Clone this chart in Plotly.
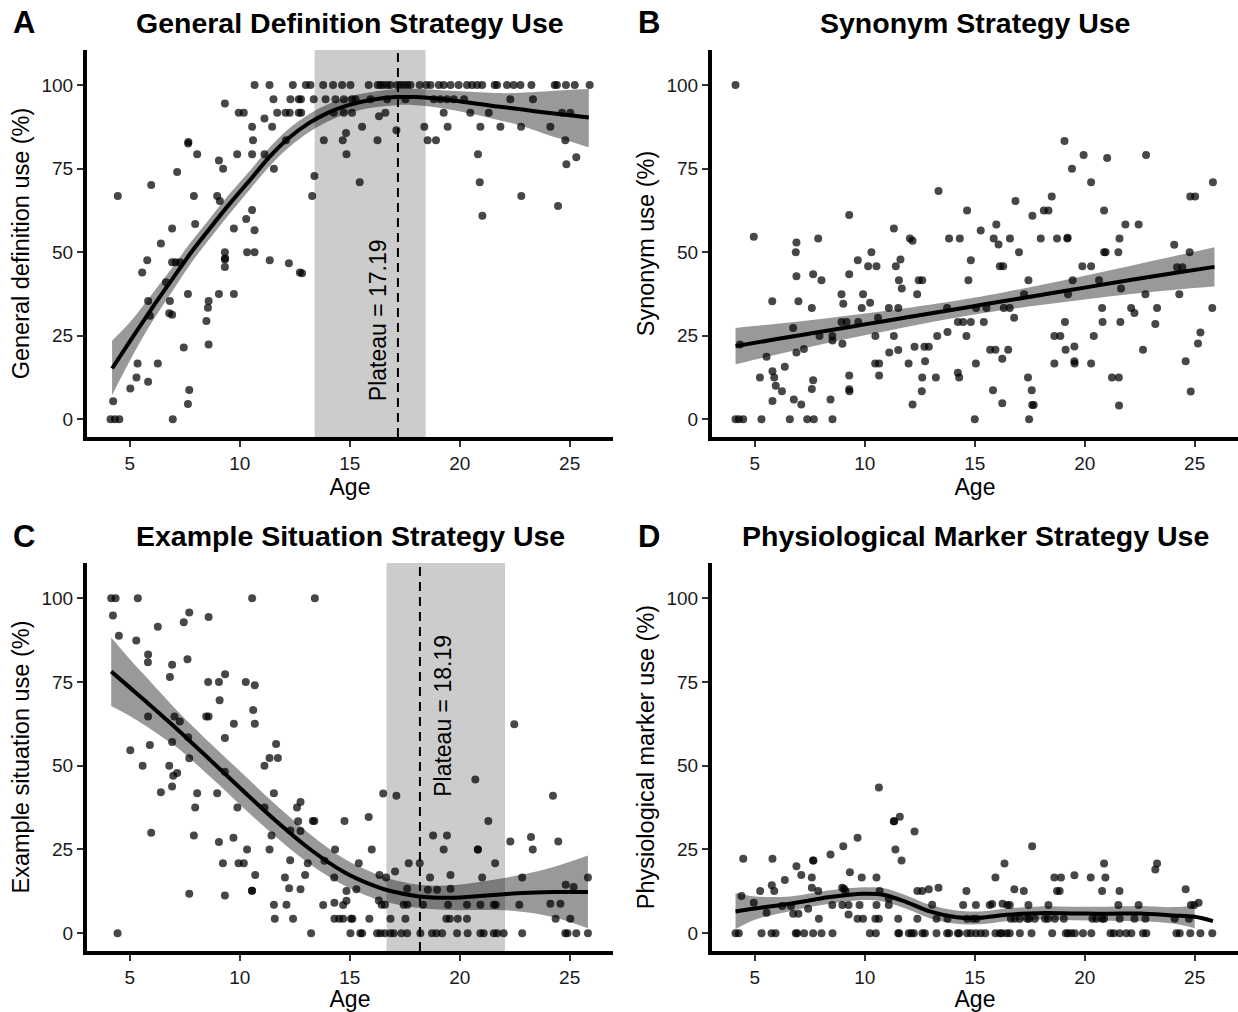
import plotly.graph_objects as go

# ---------------- Panel A : General definition ----------------
age_a = [10.67, 11.35, 12.41, 13.0, 13.21, 13.79, 14.24, 14.65, 15.03, 15.86, 16.27, 16.39, 16.52, 16.70,
         16.85, 17.15, 17.30, 17.45, 17.61, 17.76, 18.18, 18.48, 18.67, 19.05, 19.27, 19.58, 19.95, 20.33,
         20.56, 20.79, 21.02, 21.59, 21.70, 22.15, 22.45, 22.76, 23.26, 24.32, 24.42, 24.83, 25.23, 25.91,
         11.53, 12.3, 12.68, 12.78, 13.36, 13.9, 14.35, 14.73, 15.1, 15.26, 15.94, 16.7, 17.53, 18.82,
         19.12, 19.42, 19.73, 20.2, 22.3, 23.33,
         9.95, 10.18, 11.7, 12.08, 12.27, 12.68, 12.79, 14.27, 14.73, 15.1, 16.62, 19.27, 20.48, 21.32,
         24.65, 25.03, 16.33,
         9.32, 11.12, 10.56, 11.47, 10.6, 12.1, 7.65, 7.66, 8.06, 9.88, 10.56, 11.12, 9.05, 9.24, 11.55,
         7.15, 5.97, 4.45, 7.91, 8.97, 9.09, 10.56, 10.29, 7.97, 6.92, 9.73, 10.67, 6.41, 9.32, 10.33,
         10.67, 9.32, 9.33, 5.79, 11.36, 6.92, 7.08, 7.27, 12.23, 9.32, 5.56, 12.73, 6.64, 7.64, 9.05,
         9.73, 5.83, 8.58, 6.82, 8.55, 6.79, 6.92, 5.91, 8.48, 8.58, 7.45, 5.35, 6.27, 5.3, 5.83, 5.02,
         7.7, 4.24, 7.64, 4.12, 4.32, 4.52, 6.95,
         13.39, 13.29, 12.83, 13.82, 14.68, 16.26, 18.54, 18.92, 24.8, 14.85, 20.83, 14.83, 17.12,
         15.56, 18.39, 19.45, 20.94, 21.85, 22.79, 24.12, 25.3, 24.85, 15.45, 20.91, 22.8, 24.47, 21.03]
def_use = [100, 100, 100, 100, 100, 100, 100, 100, 100, 100, 100, 100, 100, 100,
           100, 100, 100, 100, 100, 100, 100, 100, 100, 100, 100, 100, 100, 100,
           100, 100, 100, 100, 100, 100, 100, 100, 100, 100, 100, 100, 100, 100,
           95.8, 95.8, 95.8, 95.8, 95.8, 95.8, 95.8, 95.8, 95.8, 95.8, 95.8, 95.8, 95.8, 95.8,
           95.8, 95.8, 95.8, 95.8, 95.8, 95.8,
           91.7, 91.7, 91.7, 91.7, 91.7, 91.7, 91.7, 91.7, 91.7, 91.7, 91.7, 91.7, 91.7, 91.7,
           91.7, 91.7, 90.7,
           94.5, 90, 87.5, 87.5, 83.5, 83.5, 82.5, 83, 79.3, 79.3, 79.3, 79.3, 77.4, 75, 75,
           74, 70.1, 66.8, 66.8, 66.8, 65.3, 62.6, 59.9, 58.4, 57.1, 57.1, 56.6, 52.6, 50, 50,
           50, 47.8, 48.2, 47.6, 47.6, 47, 47, 47, 46.7, 45.6, 43.9, 43.9, 41, 37.5, 37.5,
           37.5, 35.4, 35.4, 35.4, 33.4, 31.7, 31.3, 31, 29.4, 22.4, 21.5, 16.7, 16.7, 12.5, 11.2, 9.2,
           8.8, 5.4, 4.6, 0, 0, 0, 0,
           72.8, 66.8, 43.7, 83.5, 83.5, 83.5, 83.5, 83.5, 83.5, 79.3, 79.3, 85.7, 86.5,
           87.5, 87.5, 87.5, 87.5, 87.5, 87.5, 87.5, 78.4, 76.3, 70.9, 70.9, 66.8, 63.8, 60.9]
fit_age_a = [4.19, 5.0, 5.95, 7.0, 7.75, 8.6, 9.55, 10.5, 11.35, 12.2, 13.14, 14.0, 14.94, 16.0, 17.1,
             18.0, 18.9, 19.8, 20.69, 21.6, 22.49, 23.4, 24.29, 25.1, 25.87]
fit_a = [15.2, 23.3, 32.7, 42.6, 49.6, 56.8, 64.6, 71.9, 78.5, 84.0, 88.6, 91.7, 94.0, 95.6, 96.4,
         96.4, 96.0, 95.3, 94.5, 93.7, 93.0, 92.2, 91.5, 90.9, 90.3]
fit_a_hi = [23.5, 29.0, 37.0, 46.0, 52.8, 59.8, 67.6, 74.7, 81.3, 86.8, 91.3, 94.3, 96.5, 97.9, 98.8,
            98.8, 98.6, 98.2, 97.9, 97.6, 97.6, 97.9, 98.3, 98.6, 98.8]
fit_a_lo = [7.2, 17.5, 28.5, 39.0, 46.4, 53.8, 61.6, 69.1, 75.7, 81.2, 85.9, 89.1, 91.6, 93.2, 94.0,
            94.0, 93.4, 92.4, 91.2, 89.8, 88.4, 86.5, 84.5, 83.0, 81.4]
plateau_a = 17.19
plateau_a_ci = [13.4, 18.45]

# ---------------- Panel B : Synonym ----------------
age_b = [4.12, 4.95, 6.89, 6.86, 9.29, 11.32, 12.05, 12.17, 13.35, 13.83, 14.32, 14.65, 15.27, 7.88,
         10.3, 9.68, 10.15, 10.53, 11.41, 11.62, 14.82, 7.65, 6.89, 8.03, 9.29, 11.55, 12.45, 12.61,
         14.71, 11.68, 8.94, 12.38, 9.92, 5.79, 6.98, 9.02, 10.24, 7.59, 9.86, 11.09, 11.52, 13.74,
         8.94, 9.17, 9.7, 10.6, 14.23, 14.47, 14.82, 15.41, 6.74, 7.94, 8.52, 8.53, 8.98, 10.48, 11.32,
         13.29, 14.62, 4.32, 7.23, 6.89, 5.53, 11.11, 11.52, 12.26, 12.71, 12.91, 12.74, 11.99, 10.47,
         10.65, 13.76, 14.23, 14.29, 15.05, 5.8, 6.36, 5.88, 5.23, 5.95, 10.65, 9.29, 6.23, 5.8, 6.77,
         7.11, 7.59, 7.65, 8.44, 9.29, 9.30, 12.17, 12.59, 12.61, 13.23, 4.12, 4.27, 4.47, 5.3, 6.59,
         7.38, 7.68, 8.53, 15.0,
         19.08, 19.95, 21.02, 22.79, 19.42, 20.29, 25.83, 24.8, 25.02, 18.5, 16.85, 18.14, 18.35, 20.88,
         17.62, 15.98, 21.85, 22.45, 16.08, 15.86, 16.6, 18.0, 18.74, 19.21, 19.22, 21.58, 17.01, 20.88,
         20.95, 21.53, 24.77, 24.07, 16.14, 16.29, 19.89, 20.29, 24.2, 24.44, 17.44, 19.45, 20.65, 17.24,
         19.24, 21.65, 22.76, 24.3, 16.32, 16.59, 15.53, 15.06, 20.79, 22.11, 22.26, 23.29, 25.8, 16.79,
         19.1, 20.81, 21.62, 23.21, 18.62, 18.89, 20.41, 25.26, 25.15, 15.7, 15.94, 16.52, 19.13, 19.53,
         22.65, 16.25, 19.53, 19.54, 18.62, 20.29, 24.59, 17.42, 21.24, 21.55, 15.83, 17.59, 24.82, 16.25,
         17.61, 17.68, 21.56, 17.47]
syn_use = [100, 54.6, 52.9, 50, 61.1, 57.1, 54.1, 53.4, 68.3, 54.1, 54.1, 62.5, 56.5, 54.1,
           50, 47.6, 45.8, 45.8, 45.8, 47.8, 47.6, 43.4, 42.8, 41.6, 43.4, 41.6, 41.6, 41.6,
           41.6, 39.1, 37.4, 37.4, 37.4, 35.3, 35.3, 34.6, 34.9, 33.3, 33.3, 33.3, 33.3, 33.3,
           29.1, 29.1, 29.1, 30.4, 29.1, 29.1, 29.1, 29.1, 27.3, 24.9, 24.9, 23.6, 22.6, 24.9, 24.9,
           24.9, 24.9, 22.4, 21, 20, 18.7, 20, 20.7, 21.7, 21.7, 21.7, 17.4, 16.7, 16.7,
           16.7, 26.1, 13.9, 12.5, 16.7, 14.4, 15.7, 12.5, 12.5, 10, 13.1, 13.1, 8.4, 5.5, 5.9,
           4.4, 9.1, 11.7, 5.9, 9.0, 8.4, 4.4, 8.4, 12.5, 12.5, 0, 0, 0, 0, 0,
           0, 0, 0, 0,
           83.3, 79.1, 78.2, 79.1, 75, 70.9, 70.9, 66.7, 66.7, 66.7, 65.3, 62.5, 62.5, 62.5,
           60.9, 58.3, 58.3, 58.3, 52.3, 54.1, 54.1, 54.1, 54.1, 54.1, 54.3, 54.1, 50, 50,
           50, 50, 50, 52.2, 45.8, 45.8, 45.8, 45.8, 45.5, 45.5, 41.6, 41.6, 41.6, 37.4,
           37.4, 39.1, 37.4, 37.4, 33.3, 33.3, 33.3, 33.3, 33.3, 33.3, 31.8, 33.3, 33.3, 30.4,
           29.1, 29.1, 29.1, 28.5, 24.9, 24.9, 24.9, 26, 22.7, 20.8, 20.8, 20.8, 20.8, 21.8,
           20.8, 18.1, 17.4, 16.7, 16.7, 16.7, 17.4, 12.5, 12.5, 12.5, 8.7, 8.7, 8.3, 4.8,
           4.3, 4.3, 4.1, 0]
fit_age_b = [4.12, 6.0, 8.0, 10.0, 12.0, 14.0, 15.0, 16.0, 18.0, 20.0, 22.0, 24.0, 25.9]
fit_b = [21.9, 24.0, 26.2, 28.4, 30.6, 32.8, 33.9, 35.0, 37.2, 39.4, 41.6, 43.7, 45.6]
fit_b_hi = [27.35, 28.6, 30.0, 31.67, 33.4, 35.33, 36.42, 37.6, 40.2, 42.98, 45.8, 48.7, 51.5]
fit_b_lo = [16.45, 19.4, 22.4, 25.13, 27.8, 30.27, 31.38, 32.4, 34.2, 35.82, 37.4, 38.7, 39.7]

# ---------------- Panel C : Example situation ----------------
age_c = [4.15, 4.35, 5.36, 10.56, 13.41, 4.23, 4.5, 5.29, 6.27, 7.45, 7.7, 8.58, 5.83, 5.82, 7.62,
         6.92, 6.82, 8.56, 9.05, 9.33, 10.27, 10.68, 9.08, 10.61, 5.83, 7.03, 7.27, 8.47, 8.58, 9.73,
         10.68, 9.32, 6.92, 7.65, 5.91, 11.65, 11.35, 11.73, 7.7, 5.02, 5.58, 6.79, 11.12, 6.97, 7.15,
         9.32, 6.92, 6.41, 8.06, 8.97, 11.55, 7.97, 9.89, 11.12, 12.6, 12.76, 13.32, 13.39, 14.76,
         5.97, 7.91, 9.05, 9.71, 11.44, 12.3, 12.65, 12.76, 10.33, 11.35, 14.33, 9.23, 9.94, 10.18,
         12.29, 13.09, 13.85, 15.41, 10.7, 12.05, 12.97, 14.29, 7.7, 9.32, 10.55, 10.56, 12.24, 12.76,
         14.85, 15.3, 11.55, 12.12, 13.79, 14.3, 14.7, 14.85, 11.59, 12.42, 14.3, 14.52, 14.7, 15.06,
         15.12, 4.44, 13.24, 15.03, 15.48,
         22.48, 20.71, 16.52, 17.12, 24.24, 15.86, 21.3, 18.79, 19.42, 24.48, 23.24, 22.3, 16.0, 19.27,
         20.82, 20.83, 23.32, 17.68, 18.18, 21.61, 16.35, 16.65, 17.06, 18.65, 19.58, 21.02, 22.84,
         25.83, 24.82, 25.18, 17.61, 18.55, 18.97, 19.58, 16.32, 16.45, 16.6, 17.45, 17.62, 18.33,
         19.47, 20.33, 20.94, 21.55, 21.64, 22.71, 24.12, 24.58, 15.89, 16.85, 17.53, 19.39, 19.55,
         19.91, 20.33, 24.36, 25.03,
         15.56, 16.24, 16.39, 16.59, 16.85, 17.0, 17.35, 17.61, 18.21, 18.74, 18.94, 19.2, 19.88,
         20.36, 20.94, 21.09, 21.55, 21.7, 22.0, 22.84, 24.8, 24.9, 25.3, 25.83]
ex_use = [100, 100, 100, 100, 100, 94.8, 88.8, 87.4, 91.5, 92.8, 95.7, 94.4, 83.2, 80.9, 81.8,
          80.1, 76.5, 75, 75, 77.3, 75, 74, 69.5, 66.6, 64.7, 64.7, 63.2, 64.7, 64.7, 62.5,
          62.5, 58.3, 57.1, 58.5, 56.2, 56.5, 52.3, 52.3, 52.2, 54.6, 50, 50, 50, 47, 47.8,
          48.2, 43.8, 42.1, 41.8, 41.8, 41.8, 37.5, 37.5, 37.5, 37.5, 39.2, 33.5, 33.5, 33.5,
          30, 29.2, 27.2, 28.5, 29.2, 30.7, 33.4, 30.5, 25, 25, 25, 20.9, 20.9, 20.9,
          21.8, 20.9, 21.6, 20.9, 17.4, 16.6, 17.4, 16.6, 11.8, 11.3, 12.7, 12.7, 13.4, 13.1,
          12.6, 13.1, 8.5, 8.5, 8.4, 9.1, 8.4, 9.7, 4.3, 4.3, 4.3, 4.3, 4.3, 4.3,
          4.3, 0, 0, 0, 0,
          62.4, 45.9, 41.7, 41, 41, 34.7, 33.5, 29.2, 29.2, 27.4, 28.7, 27.4, 25, 25,
          25, 25, 25, 20.9, 20.9, 20.9, 17.4, 16.6, 18.4, 16.6, 17.4, 16.6, 16.6,
          16.6, 14.5, 13.8, 13.3, 13, 13, 13.3, 9.8, 8.5, 8.5, 8.5, 8.5, 8.5,
          8.5, 8.5, 8.5, 8.5, 8.5, 8.5, 8.8, 8.8, 4.3, 4.3, 4.3, 4.3, 4.3,
          4.3, 4.3, 4.3, 4.3,
          0, 0, 0, 0, 0, 0, 0, 0, 0, 0, 0, 0, 0,
          0, 0, 0, 0, 0, 0, 0, 0, 0, 0, 0]
fit_age_c = [4.15, 5.0, 5.64, 6.5, 7.15, 8.67, 10.18, 11.7, 13.21, 14.73, 16.09, 16.85, 18.15, 19.58,
             21.09, 22.6, 24.27, 25.83]
fit_c = [78.1, 73.3, 69.7, 64.7, 60.9, 51.6, 42.3, 33.2, 25.0, 18.3, 14.2, 12.6, 11.0, 10.6, 11.2,
         11.9, 12.3, 12.3]
fit_c_hi = [88.3, 81.8, 77.2, 71.0, 66.4, 56.6, 47.3, 38.0, 29.5, 22.3, 18.0, 16.2, 14.5, 14.3, 15.5,
            17.2, 19.8, 23.2]
fit_c_lo = [67.8, 64.8, 62.2, 58.4, 55.4, 46.6, 37.3, 28.4, 20.5, 14.3, 10.4, 9.0, 7.5, 6.9, 6.9,
            6.6, 4.8, 1.5]
plateau_c = 18.19
plateau_c_ci = [16.67, 22.06]

# ---------------- Panel D : Physiological marker ----------------
age_d = [10.64, 11.32, 11.33, 11.59, 12.26, 9.67, 9.02, 11.39, 8.44, 4.47, 5.8, 7.65, 7.66, 11.67, 6.89,
         9.32, 7.11, 7.59, 9.86, 10.53, 6.36, 5.77, 5.88, 7.59, 8.97, 9.05, 9.12, 5.24, 10.67, 12.61,
         12.91, 13.35, 14.62, 4.39, 7.88, 4.95, 11.09, 12.39, 13.06, 6.24, 6.64, 8.52, 8.98, 9.26, 9.76,
         10.53, 11.09, 14.47, 15.05, 5.53, 6.74, 6.98, 7.42, 9.26, 9.67, 9.92, 10.48, 10.64, 11.52,
         12.39, 13.26, 13.76, 14.65, 14.92, 15.08, 7.91,
         4.12, 4.27, 5.3, 5.76, 5.94, 6.86, 6.92, 7.24, 7.65, 8.03, 8.53, 10.23, 10.5, 11.52, 11.56,
         12.0, 12.12, 12.23, 12.62, 12.73, 13.26, 13.74, 13.83, 14.23, 14.29, 14.65, 14.82, 15.05,
         15.27, 15.48,
         17.61, 16.35, 20.88, 23.21, 23.29, 15.94, 18.62, 18.92, 19.53, 20.27, 20.94, 16.8, 17.23,
         18.74, 18.86, 20.79, 21.58, 24.59, 15.68, 15.79, 16.26, 16.48, 16.59, 17.44, 18.35, 21.53,
         22.45, 24.83, 24.98, 25.18,
         16.64, 16.82, 17.05, 17.38, 17.47, 17.73, 18.2, 18.33, 18.64, 19.05, 20.35, 20.53, 20.79,
         20.88, 21.59, 22.26, 22.76, 24.09, 24.74,
         15.94, 16.14, 16.23, 16.45, 16.59, 17.05, 17.58, 18.52, 19.14, 19.24, 19.39, 19.55, 19.92,
         20.3, 21.17, 21.32, 21.59, 21.89, 22.12, 22.65, 22.8, 24.17, 24.32, 24.8, 25.26, 25.8]
phys_use = [43.5, 33.4, 33.4, 34.8, 30.4, 28.5, 26, 25, 23.5, 22.2, 22.2, 21.7, 21.7, 21.7, 20,
            18.2, 17.4, 16.6, 16.6, 16.6, 15.9, 14.3, 12.6, 13.6, 13.6, 13.3, 12.6, 12.6, 12.6, 12.6,
            13.1, 13.6, 12.6, 11.1, 12.6, 9.1, 10.3, 12.6, 8.5, 8.1, 8.1, 8.4, 8.4, 8.4, 8.4,
            8.4, 8.4, 8.4, 8.4, 6.1, 5.8, 5.8, 7.3, 5.6, 4.3, 4.3, 4.3, 4.3, 4.3,
            4.3, 4.3, 4.3, 4.3, 4.3, 4.3, 4.3,
            0, 0, 0, 0, 0, 0, 0, 0, 0, 0, 0, 0, 0, 0, 0,
            0, 0, 0, 0, 0, 0, 0, 0, 0, 0, 0, 0, 0,
            0, 0,
            26.0, 20.8, 20.8, 19.0, 20.8, 16.6, 16.6, 16.6, 17.3, 16.6, 16.6, 13.1, 12.6,
            12.6, 12.6, 12.6, 12.6, 13.1, 8.4, 8.7, 8.8, 8.4, 8.4, 8.4, 8.4, 8.4,
            8.4, 8.4, 8.4, 9.1,
            4.3, 4.3, 4.3, 4.3, 4.3, 4.3, 4.3, 4.3, 4.3, 4.3, 4.3, 4.3, 4.3,
            4.3, 4.3, 4.3, 4.3, 4.3, 4.3,
            0, 0, 0, 0, 0, 0, 0, 0, 0, 0, 0, 0, 0,
            0, 0, 0, 0, 0, 0, 0, 0, 0, 0, 0, 0, 0]
fit_age_d = [4.12, 5.0, 6.59, 8.41, 9.92, 10.83, 11.89, 12.95, 14.17, 15.23, 16.44, 17.95, 19.47,
             20.98, 22.5, 24.02, 25.0, 25.83]
fit_d = [6.5, 7.4, 8.8, 10.8, 11.8, 11.5, 9.3, 6.5, 4.8, 4.6, 5.5, 6.0, 5.9, 5.8, 5.9, 5.3, 4.9, 3.6]
band_age_d = [4.12, 5.0, 6.59, 8.41, 9.92, 10.83, 11.89, 12.95, 14.17, 15.23, 16.44, 17.95, 19.47,
              20.98, 22.5, 24.02, 25.0]
fit_d_hi = [12.0, 11.0, 11.0, 12.8, 13.7, 13.5, 11.3, 8.5, 6.8, 6.5, 7.4, 8.0, 7.9, 7.9, 8.1, 7.8, 8.3]
fit_d_lo = [1.2, 4.0, 6.6, 8.8, 9.9, 9.5, 7.3, 4.5, 2.8, 2.7, 3.6, 4.1, 3.9, 3.7, 3.6, 2.9, 1.5]

# ---------------- Labels ----------------
panel_letters = ["A", "B", "C", "D"]
panel_titles = ["General Definition Strategy Use", "Synonym Strategy Use",
                "Example Situation Strategy Use", "Physiological Marker Strategy Use"]
y_titles = ["General definition use (%)", "Synonym use (%)",
            "Example situation use (%)", "Physiological marker use (%)"]
x_title = "Age"
x_ticks = [5, 10, 15, 20, 25]
y_ticks = [0, 25, 50, 75, 100]

FONT = "Liberation Sans, Arial, Helvetica, sans-serif"
W, H = 1238, 1012

# panel pixel boxes (left, right, top, bottom)
boxes = [(87, 613, 50, 437), (712, 1238, 50, 437), (87, 613, 563, 951), (712, 1238, 563, 951)]

panels = [
    dict(x=age_a, y=def_use, fx=fit_age_a, fy=fit_a, bx=fit_age_a, hi=fit_a_hi, lo=fit_a_lo,
         plateau=plateau_a, ci=plateau_a_ci, label_xy=(16.26, 29.8)),
    dict(x=age_b, y=syn_use, fx=fit_age_b, fy=fit_b, bx=fit_age_b, hi=fit_b_hi, lo=fit_b_lo,
         plateau=None),
    dict(x=age_c, y=ex_use, fx=fit_age_c, fy=fit_c, bx=fit_age_c, hi=fit_c_hi, lo=fit_c_lo,
         plateau=plateau_c, ci=plateau_c_ci, label_xy=(19.24, 64.9)),
    dict(x=age_d, y=phys_use, fx=fit_age_d, fy=fit_d, bx=band_age_d, hi=fit_d_hi, lo=fit_d_lo,
         plateau=None),
]

fig = go.Figure()
layout = dict(width=W, height=H, margin=dict(l=0, r=0, t=0, b=0), paper_bgcolor="white",
              plot_bgcolor="rgba(0,0,0,0)", showlegend=False, font=dict(family=FONT, color="black"))
shapes, annotations = [], []

for i, p in enumerate(panels):
    n = "" if i == 0 else str(i + 1)
    xa, ya = "x" + n, "y" + n
    l, r, t, b = boxes[i]
    layout["xaxis" + n] = dict(
        domain=[l / W, r / W], anchor=ya, range=[3.05, 26.97], tickvals=x_ticks,
        showline=True, linewidth=4, linecolor="black", ticks="outside", ticklen=6, tickwidth=2,
        tickcolor="#333333", tickfont=dict(size=19, color="#1a1a1a", family=FONT),
        showgrid=False, zeroline=False,
        title=dict(text=x_title, font=dict(size=23, family=FONT, color="black"), standoff=4))
    layout["yaxis" + n] = dict(
        domain=[1 - b / H, 1 - t / H], anchor=xa, range=[-5.3, 110.5], tickvals=y_ticks,
        showline=True, linewidth=4, linecolor="black", ticks="outside", ticklen=6, tickwidth=2,
        tickcolor="#333333", tickfont=dict(size=19, color="#1a1a1a", family=FONT),
        showgrid=False, zeroline=False,
        title=dict(text=y_titles[i], font=dict(size=23.5, family=FONT, color="black"), standoff=6))

    if p["plateau"] is not None:
        shapes.append(dict(type="rect", xref=xa, yref=ya + " domain", x0=p["ci"][0], x1=p["ci"][1],
                           y0=0, y1=1, fillcolor="rgba(0,0,0,0.2)", line=dict(width=0), layer="below"))
        shapes.append(dict(type="line", xref=xa, yref=ya + " domain", x0=p["plateau"], x1=p["plateau"],
                           y0=0, y1=1, line=dict(color="black", width=2, dash="9px,6px"), layer="above"))
        annotations.append(dict(xref=xa, yref=ya, x=p["label_xy"][0], y=p["label_xy"][1],
                                text="Plateau = %.2f" % p["plateau"], textangle=-90, showarrow=False,
                                font=dict(size=23, family=FONT, color="black"),
                                xanchor="center", yanchor="middle"))

    fig.add_trace(go.Scatter(x=p["x"], y=p["y"], mode="markers", xaxis=xa, yaxis=ya,
                             marker=dict(size=8, color="rgba(0,0,0,0.72)", line=dict(width=0)),
                             hoverinfo="skip"))
    # confidence band: lower edge then upper edge filled to it
    fig.add_trace(go.Scatter(x=p["bx"], y=p["lo"], mode="lines", xaxis=xa, yaxis=ya,
                             line=dict(width=0, shape="spline", color="rgba(0,0,0,0)"),
                             hoverinfo="skip"))
    fig.add_trace(go.Scatter(x=p["bx"], y=p["hi"], mode="lines", xaxis=xa, yaxis=ya,
                             fill="tonexty", fillcolor="rgba(0,0,0,0.4)",
                             line=dict(width=0, shape="spline", color="rgba(0,0,0,0)"),
                             hoverinfo="skip"))
    fig.add_trace(go.Scatter(x=p["fx"], y=p["fy"], mode="lines", xaxis=xa, yaxis=ya,
                             line=dict(color="black", width=4, shape="spline"), hoverinfo="skip"))

    cx = (l + r) / 2 / W
    ty = 1 - (t - 27) / H
    annotations.append(dict(xref="paper", yref="paper", x=cx, y=ty, text="<b>%s</b>" % panel_titles[i],
                            showarrow=False, xanchor="center", yanchor="middle",
                            font=dict(size=28.5, family=FONT, color="black")))
    annotations.append(dict(xref="paper", yref="paper", x=(l - 76) / W, y=ty,
                            text="<b>%s</b>" % panel_letters[i], showarrow=False,
                            xanchor="left", yanchor="middle",
                            font=dict(size=31, family=FONT, color="black")))

layout["shapes"] = shapes
layout["annotations"] = annotations
fig.update_layout(**layout)
fig.write_html("out.html")
